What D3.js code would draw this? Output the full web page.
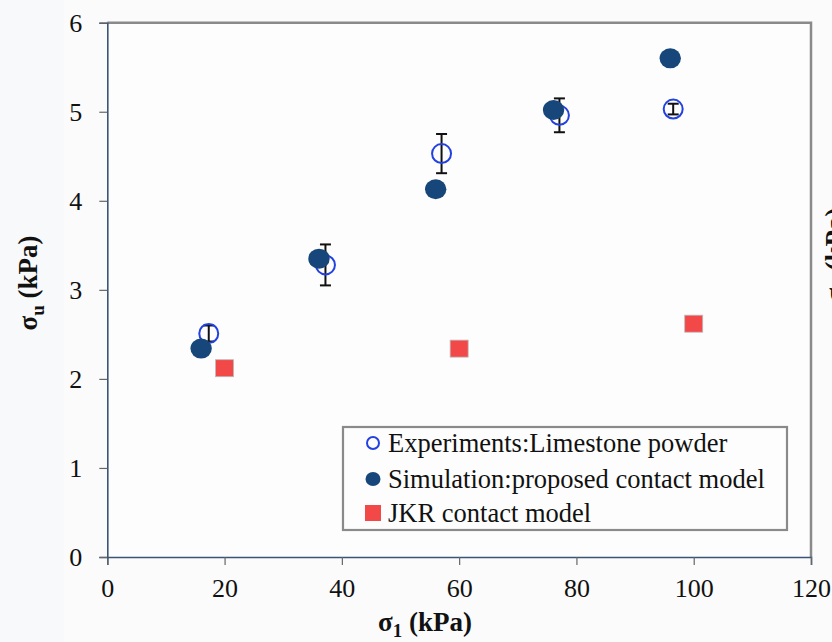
<!DOCTYPE html>
<html>
<head>
<meta charset="utf-8">
<script src="https://cdn.jsdelivr.net/npm/d3@7/dist/d3.min.js"></script>
<style>
  html, body { margin: 0; padding: 0; background: #f8f9fa; }
  svg { display: block; }
  text { font-family: "Liberation Serif", "Times New Roman", serif; fill: #111; }
</style>
</head>
<body>
<svg id="chart" width="832" height="642"></svg>
<script>
// Experimental unconfined yield strength (open circles, with error bars)
const expX = [17.3, 37.2, 57.0, 77.1, 96.5];
const expY = [2.51, 3.28, 4.53, 4.96, 5.03];
const expErr = [0.09, 0.23, 0.22, 0.19, 0.06];
// Simulation with the proposed contact model (filled circles)
const simX = [16.0, 36.1, 56.0, 76.1, 96.0];
const simY = [2.34, 3.35, 4.13, 5.02, 5.60];
// JKR contact model (squares)
const jkrX = [20, 60, 100];
const jkrY = [2.12, 2.34, 2.62];
// Axis ticks
const xTicks = [0, 20, 40, 60, 80, 100, 120];
const yTicks = [0, 1, 2, 3, 4, 5, 6];
const legendLabels = ["Experiments:Limestone powder", "Simulation:proposed contact model", "JKR contact model"];

const svg = d3.select("#chart");
const plotL = 107.3, plotR = 811, plotT = 22.7, plotB = 557;

const x = d3.scaleLinear().domain([0, 120]).range([plotL, plotR]);
const y = d3.scaleLinear().domain([0, 6]).range([plotB, plotT]);

// faint background bands
svg.append("rect").attr("x", 0).attr("y", 0).attr("width", 832).attr("height", 642).attr("fill", "#f8f9fa");
svg.append("rect").attr("x", 64).attr("y", 0).attr("width", 768).attr("height", 642).attr("fill", "#fbfbfc");

// plot area
svg.append("rect")
  .attr("x", plotL).attr("y", plotT)
  .attr("width", plotR - plotL).attr("height", plotB - plotT)
  .attr("fill", "#fdfdfd");

// top and right frame
svg.append("path")
  .attr("d", `M${plotL},${plotT}H${plotR}V${plotB}`)
  .attr("fill", "none").attr("stroke", "#8a8a8a").attr("stroke-width", 2.5);

// axes
const xAxis = d3.axisBottom(x).tickValues(xTicks).tickSize(8).tickPadding(13).tickFormat(d3.format("d"));
const yAxis = d3.axisLeft(y).tickValues(yTicks).tickSize(8).tickPadding(17).tickFormat(d3.format("d"));

const gx = svg.append("g").attr("transform", `translate(0,${plotB})`).call(xAxis);
const gy = svg.append("g").attr("transform", `translate(${plotL},0)`).call(yAxis);
[gx, gy].forEach(g => {
  g.select(".domain").attr("stroke", "#3a5579").attr("stroke-width", 1.6);
  g.selectAll(".tick line").attr("stroke", "#666").attr("stroke-width", 1.2);
  g.selectAll(".tick text")
    .attr("fill", "#111")
    .style("font-family", "'Liberation Serif', 'Times New Roman', serif")
    .style("font-size", "26px");
});
gx.selectAll(".tick text").attr("dy", "0.72em");
gy.selectAll(".tick text").attr("dy", "0.34em");

// axis titles
const yTitle = svg.append("text")
  .attr("transform", `translate(37,283) rotate(-90)`)
  .attr("text-anchor", "middle")
  .style("font-size", "27px").style("font-weight", "bold");
yTitle.append("tspan").text("σ");
yTitle.append("tspan").attr("dy", 7).style("font-size", "19px").text("u");
yTitle.append("tspan").attr("dy", -7).text(" (kPa)");

const xTitle = svg.append("text")
  .attr("x", 425).attr("y", 631)
  .attr("text-anchor", "middle")
  .style("font-size", "27px").style("font-weight", "bold");
xTitle.append("tspan").text("σ");
xTitle.append("tspan").attr("dy", 6).style("font-size", "19px").text("1");
xTitle.append("tspan").attr("dy", -6).text(" (kPa)");

// neighbouring panel's axis title, cut by the page edge
const sideTitle = svg.append("text")
  .attr("transform", `translate(844,255) rotate(-90)`)
  .attr("text-anchor", "middle")
  .style("font-size", "27px").style("font-weight", "bold");
sideTitle.append("tspan").text("σ");
sideTitle.append("tspan").attr("dy", 7).style("font-size", "19px").text("u");
sideTitle.append("tspan").attr("dy", -7).text(" (kPa)");

// experiments: error bars and open circles
const expData = expX.map((v, i) => ({ x: v, y: expY[i], e: expErr[i] }));
const eg = svg.append("g");
expData.forEach(d => {
  const cx = x(d.x), y1 = y(d.y + d.e), y2 = y(d.y - d.e);
  eg.append("line").attr("x1", cx).attr("x2", cx).attr("y1", y1).attr("y2", y2)
    .attr("stroke", "#111").attr("stroke-width", 2);
  [y1, y2].forEach(yy => eg.append("line")
    .attr("x1", cx - 5.5).attr("x2", cx + 5.5).attr("y1", yy).attr("y2", yy)
    .attr("stroke", "#111").attr("stroke-width", 2));
});
svg.append("g").selectAll("circle").data(expData).join("circle")
  .attr("cx", d => x(d.x)).attr("cy", d => y(d.y)).attr("r", 9.5)
  .attr("fill", "none").attr("stroke", "#2341e0").attr("stroke-width", 2);

// simulation: filled circles
const simData = simX.map((v, i) => ({ x: v, y: simY[i] }));
svg.append("g").selectAll("ellipse").data(simData).join("ellipse")
  .attr("cx", d => x(d.x)).attr("cy", d => y(d.y)).attr("rx", 10.7).attr("ry", 10)
  .attr("fill", "#17477a");

// JKR: squares
const jkrData = jkrX.map((v, i) => ({ x: v, y: jkrY[i] }));
svg.append("g").selectAll("rect").data(jkrData).join("rect")
  .attr("x", d => x(d.x) - 9).attr("y", d => y(d.y) - 8.5)
  .attr("width", 18).attr("height", 17)
  .attr("fill", "#f24848").attr("stroke", "#bbb").attr("stroke-width", 0.8);

// legend
const lg = svg.append("g");
lg.append("rect").attr("x", 343).attr("y", 427).attr("width", 444).attr("height", 103)
  .attr("fill", "#fdfdfd").attr("stroke", "#8a8a8a").attr("stroke-width", 2.2);
const rows = [443, 479, 513];
lg.append("circle").attr("cx", 373).attr("cy", rows[0]).attr("r", 6)
  .attr("fill", "none").attr("stroke", "#2341e0").attr("stroke-width", 2);
lg.append("ellipse").attr("cx", 373).attr("cy", rows[1]).attr("rx", 7.5).attr("ry", 7)
  .attr("fill", "#17477a");
lg.append("rect").attr("x", 365).attr("y", rows[2] - 8).attr("width", 16).attr("height", 16)
  .attr("fill", "#f24848");
lg.selectAll("text.lbl").data(legendLabels).join("text")
  .attr("class", "lbl")
  .attr("x", 388).attr("y", (d, i) => rows[i]).attr("dy", "0.35em")
  .style("font-size", "26.5px")
  .text(d => d);
</script>
</body>
</html>
